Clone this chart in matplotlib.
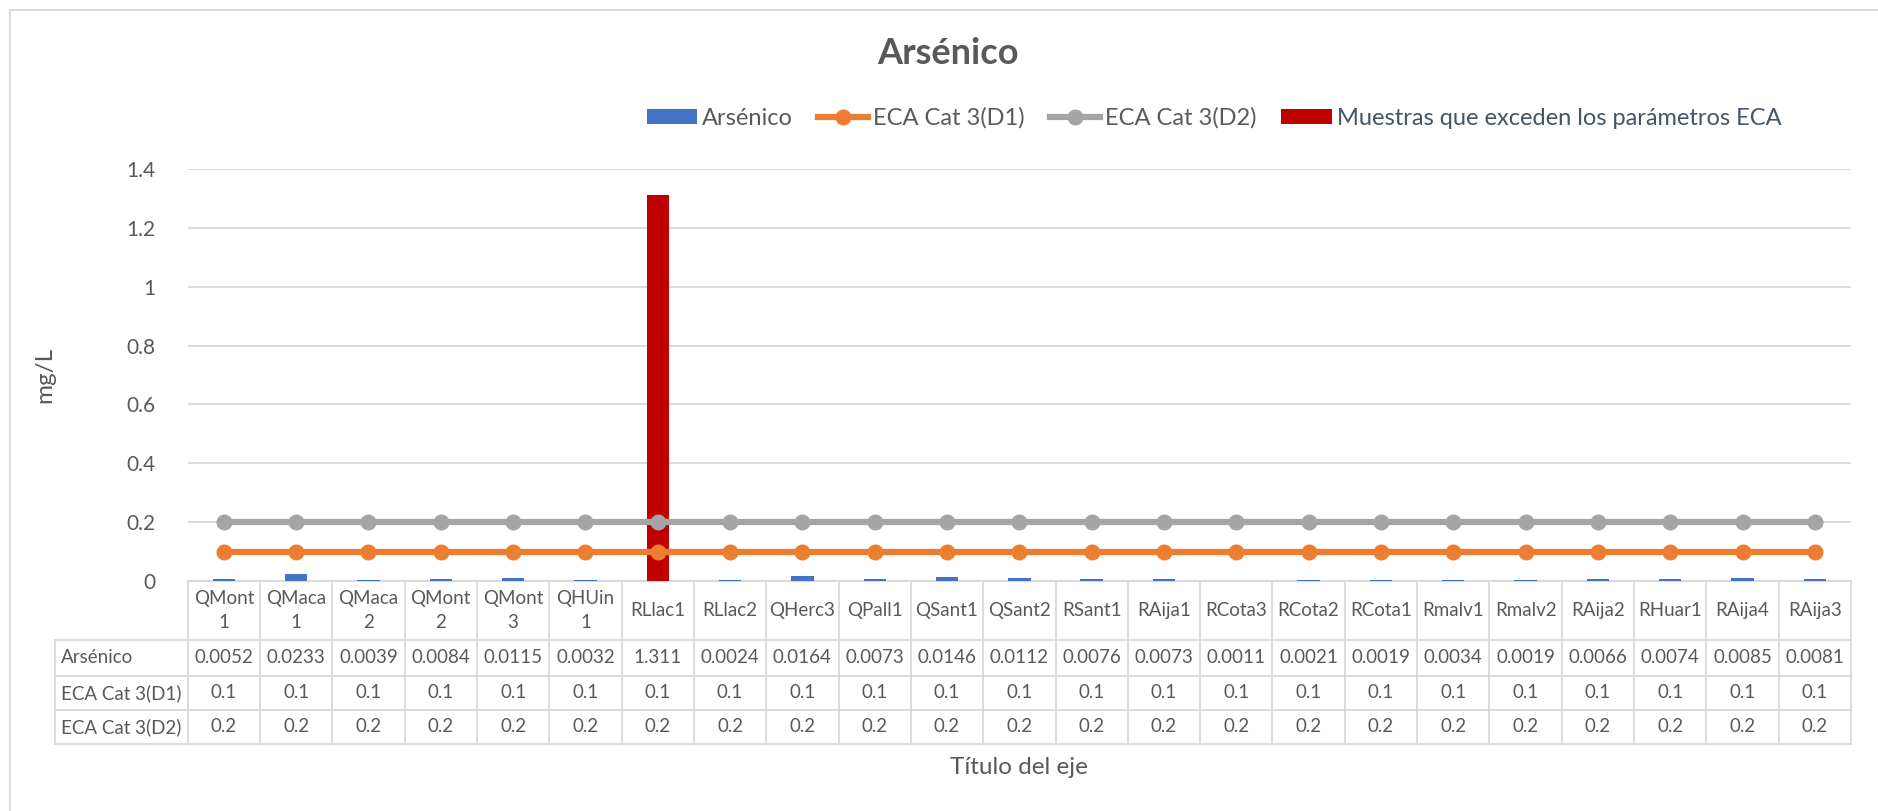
import numpy as np
import matplotlib
matplotlib.use("Agg")
import matplotlib.pyplot as plt
from matplotlib.lines import Line2D
from matplotlib.patches import Patch
from matplotlib.transforms import blended_transform_factory

plt.rcParams['font.family'] = ['Lato', 'DejaVu Sans']

# ---- data ----
samples = ["QMont\n1", "QMaca\n1", "QMaca\n2", "QMont\n2", "QMont\n3", "QHUin\n1",
           "RLlac1", "RLlac2", "QHerc3", "QPall1", "QSant1", "QSant2", "RSant1",
           "RAija1", "RCota3", "RCota2", "RCota1", "Rmalv1", "Rmalv2", "RAija2",
           "RHuar1", "RAija4", "RAija3"]
arsenic = [0.0052, 0.0233, 0.0039, 0.0084, 0.0115, 0.0032, 1.311, 0.0024, 0.0164,
           0.0073, 0.0146, 0.0112, 0.0076, 0.0073, 0.0011, 0.0021, 0.0019, 0.0034,
           0.0019, 0.0066, 0.0074, 0.0085, 0.0081]
eca_d1 = [0.1] * 23
eca_d2 = [0.2] * 23
y_ticks = [0, 0.2, 0.4, 0.6, 0.8, 1, 1.2, 1.4]

arsenic_arr = np.array(arsenic)
d2_arr = np.array(eca_d2)
exceed = np.where(arsenic_arr > d2_arr, arsenic_arr, np.nan)

# ---- styling ----
TXT = "#595959"
GRID = "#D9D9D9"
BLUE = "#4472C4"
RED = "#C00000"
ORANGE = "#ED7D31"
GRAY = "#A5A5A5"
FS = 13.5          # table text
FS_TICK = 15       # y tick labels
FS_AX = 17.5       # axis titles
FS_LEG = 17        # legend

W, H = 1878, 811
fig = plt.figure(figsize=(W / 100, H / 100), dpi=100)

def fx(px):
    return px / W

def fy(py):
    return 1 - py / H

left, right, y0, ytop = 187.7, 1851, 581, 169
ax = fig.add_axes([fx(left), fy(y0), fx(right - left), fy(ytop) - fy(y0)])

x = np.arange(len(samples))
ax.bar(x, arsenic, width=0.31, color=BLUE, zorder=2)
ax.bar(x, exceed, width=0.31, color=RED, zorder=3)
ax.plot(x, eca_d1, color=ORANGE, lw=4.5, marker='o', ms=10.5, zorder=4)
ax.plot(x, eca_d2, color=GRAY, lw=4.5, marker='o', ms=10.5, zorder=4)

ax.set_xlim(-0.5, len(samples) - 0.5)
ax.set_ylim(0, 1.4)
ax.set_yticks(y_ticks)
ax.set_yticklabels([f"{v:g}" for v in y_ticks])
ax.tick_params(axis='y', length=0, pad=23, labelsize=FS_TICK, labelcolor=TXT)
ax.set_xticks([])
ax.yaxis.grid(True, color=GRID, lw=1.3, zorder=0)
ax.set_axisbelow(True)
for s in ['top', 'right', 'left']:
    ax.spines[s].set_visible(False)
ax.spines['bottom'].set_color(GRID)
ax.spines['bottom'].set_linewidth(1.5)
ax.spines['bottom'].set_zorder(1)

fig.text(fx(45), fy(375), "mg/L", rotation=90, ha='center', va='center',
         fontsize=FS_AX, color=TXT)

# ---- data table below the plot ----
tr = blended_transform_factory(ax.transData, fig.transFigure)
row_lines = [581, 640, 675.7, 710, 744]
label_left = 55
n = len(samples)

for ry in row_lines[1:]:
    fig.add_artist(Line2D([fx(label_left), fx(right)], [fy(ry), fy(ry)],
                          color=GRID, lw=1.3, zorder=1))
for k in range(n + 1):
    xb = k - 0.5
    ax.add_artist(Line2D([xb, xb], [fy(row_lines[0]), fy(row_lines[-1])],
                         transform=tr, color=GRID, lw=1.3, clip_on=False))
fig.add_artist(Line2D([fx(label_left)] * 2, [fy(row_lines[1]), fy(row_lines[-1])],
                      color=GRID, lw=1.3))

hy = fy((row_lines[0] + row_lines[1]) / 2)
for i, name in enumerate(samples):
    ax.text(i, hy, name, transform=tr, ha='center', va='center', fontsize=FS,
            color=TXT, linespacing=1.45, clip_on=False)

rows = [("Arsénico", arsenic), ("ECA Cat 3(D1)", eca_d1), ("ECA Cat 3(D2)", eca_d2)]
for r, (label, vals) in enumerate(rows):
    cy = fy((row_lines[r + 1] + row_lines[r + 2]) / 2)
    fig.text(fx(61), cy, label, ha='left', va='center', fontsize=FS, color=TXT)
    for i, v in enumerate(vals):
        ax.text(i, cy, f"{v:g}", transform=tr, ha='center', va='center',
                fontsize=FS, color=TXT, clip_on=False)

fig.text(fx((left + right) / 2), fy(767), "Título del eje", ha='center',
         va='center', fontsize=FS_AX, color=TXT)

# ---- title and legend ----
fig.text(fx(948), fy(54), "Arsénico", ha='center', va='center', fontsize=26,
         fontweight='bold', color=TXT)

handles = [
    Patch(facecolor=BLUE),
    Line2D([], [], color=ORANGE, lw=4.5, marker='o', ms=10.5),
    Line2D([], [], color=GRAY, lw=4.5, marker='o', ms=10.5),
    Patch(facecolor=RED),
]
labels = ["Arsénico", "ECA Cat 3(D1)", "ECA Cat 3(D2)",
          "Muestras que exceden los parámetros ECA"]
leg = fig.legend(handles, labels, ncol=4, loc='center',
                 bbox_to_anchor=(fx(1214), fy(118)), frameon=False,
                 fontsize=FS_LEG, handlelength=2.15, handleheight=0.55,
                 handletextpad=0.2, columnspacing=1.05)
for t, c in zip(leg.get_texts(), [TXT, TXT, TXT, "#44546A"]):
    t.set_color(c)

# chart frame
fig.add_artist(Line2D([fx(10), 1], [fy(9.5), fy(9.5)], color=GRID, lw=1.3))
fig.add_artist(Line2D([fx(10), fx(10)], [0, fy(9.5)], color=GRID, lw=1.3))

fig.savefig("out.png", dpi=100, facecolor='white')
